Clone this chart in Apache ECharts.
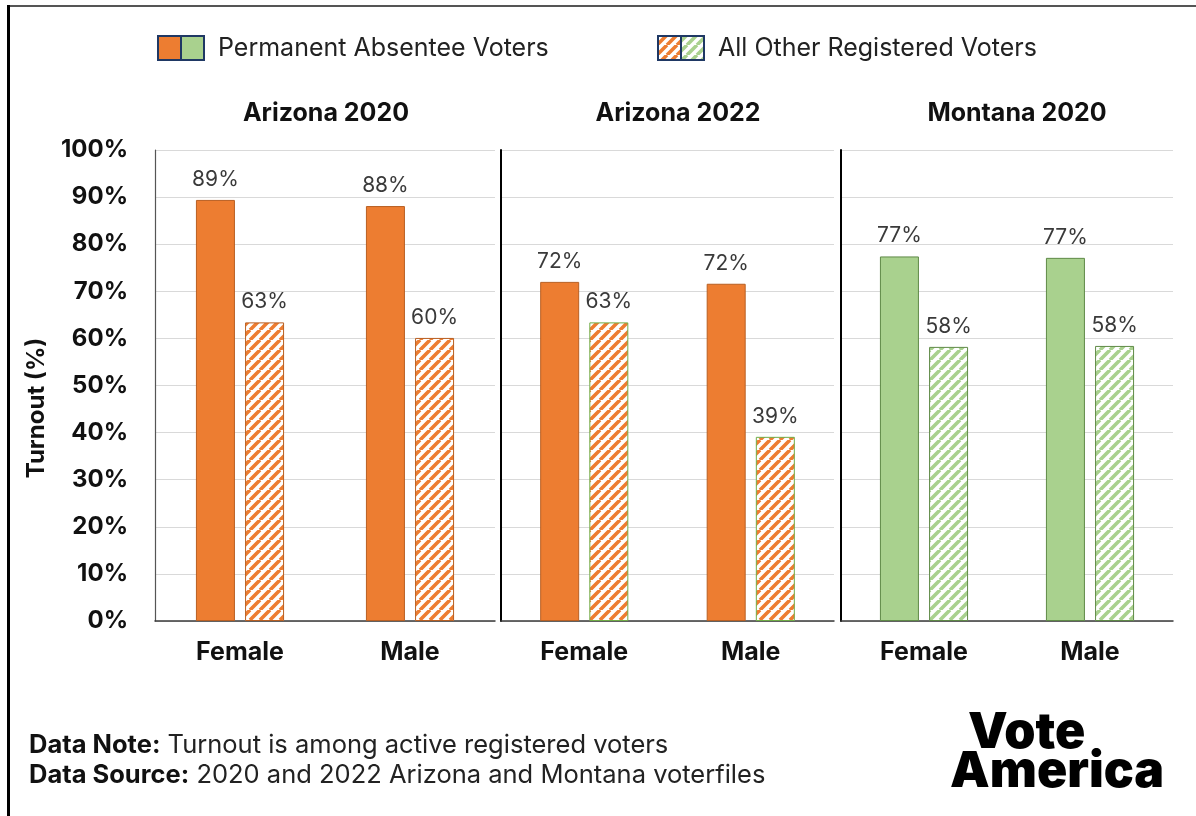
<!DOCTYPE html>
<html>
<head>
<meta charset="utf-8">
<title>Turnout by Gender</title>
<script src="https://cdn.jsdelivr.net/npm/echarts@6/dist/echarts.min.js"></script>
<style>
  html, body { margin: 0; padding: 0; background: #fff; }
  #chart { width: 1196px; height: 816px; }
</style>
</head>
<body>
<div id="chart"></div>
<script>
// Data
const categories = ['Female', 'Male'];
const panelTitles = ['Arizona 2020', 'Arizona 2022', 'Montana 2020'];
const seriesNames = ['Permanent Absentee Voters', 'All Other Registered Voters'];
const permanentAbsentee = [
  [89.4, 88.1],   // Arizona 2020
  [72.0, 71.6],   // Arizona 2022
  [77.4, 77.1]    // Montana 2020
];
const allOtherRegistered = [
  [63.4, 60.1],
  [63.4, 39.1],
  [58.2, 58.4]
];
const yMin = 0, yMax = 100, yStep = 10;

// Styling
const FONT = 'Inter, Roboto, "Noto Sans", sans-serif';
const ORANGE = '#ED7D31', ORANGE_EDGE = '#B85F22';
const GREEN = '#A9D18E', GREEN_EDGE = '#5F8A47', GREEN_LINE = '#70AD47';
const NAVY = '#1F3864';
const panelFill = [ORANGE, ORANGE, GREEN];
const panelEdge = [ORANGE_EDGE, ORANGE_EDGE, GREEN_EDGE];
const hatchEdge = [ORANGE_EDGE, GREEN_LINE, GREEN_EDGE];
const gridLeft = [155, 501, 841];
const gridWidth = [340, 333, 332];
const titleCenter = [321, 673, 1012];
const gridTop = 150, gridHeight = 471;

// Diagonal stripe tile used for the hatched bars
function stripeTile(color) {
  const c = document.createElement('canvas');
  c.width = c.height = 10;
  const g = c.getContext('2d');
  g.fillStyle = '#fff';
  g.fillRect(0, 0, 10, 10);
  g.strokeStyle = color;
  g.lineWidth = 3.6;
  g.beginPath();
  [-10, 0, 10].forEach(o => { g.moveTo(o, 10); g.lineTo(o + 10, 0); });
  g.stroke();
  return c;
}

// Legend swatch: orange half + green half, solid or striped
function swatch(striped) {
  const w = 48, h = 26;
  const c = document.createElement('canvas');
  c.width = w; c.height = h;
  const g = c.getContext('2d');
  const halves = [ORANGE, GREEN];
  halves.forEach((col, i) => {
    g.fillStyle = striped ? g.createPattern(stripeTile(col), 'repeat') : col;
    g.fillRect(i * w / 2, 0, w / 2, h);
  });
  g.strokeStyle = NAVY;
  g.lineWidth = 2;
  g.strokeRect(1, 1, w - 2, h - 2);
  g.beginPath(); g.moveTo(w / 2, 0); g.lineTo(w / 2, h); g.stroke();
  return 'image://' + c.toDataURL();
}

const chart = echarts.init(document.getElementById('chart'), null, { renderer: 'canvas' });

const grids = [], xAxes = [], yAxes = [], series = [], titles = [];
panelTitles.forEach((t, i) => {
  grids.push({ left: gridLeft[i], top: gridTop, width: gridWidth[i], height: gridHeight });
  titles.push({
    text: t,
    left: titleCenter[i],
    top: 96,
    textAlign: 'center',
    textStyle: { fontFamily: FONT, fontSize: 25, fontWeight: 'bold', color: '#111' }
  });
  xAxes.push({
    type: 'category', gridIndex: i, data: categories,
    axisTick: { show: false },
    axisLine: { lineStyle: { color: '#3a3a3a', width: 1.5 } },
    axisLabel: { margin: 19, fontFamily: FONT, fontSize: 25, fontWeight: 'bold', color: '#111' }
  });
  yAxes.push({
    type: 'value', gridIndex: i, min: yMin, max: yMax, interval: yStep,
    axisLine: { show: true, lineStyle: { color: i === 0 ? '#555' : '#000', width: i === 0 ? 1.2 : 2 } },
    axisTick: { show: false },
    splitLine: { lineStyle: { color: '#d9d9d9', width: 1 } },
    axisLabel: {
      show: i === 0, margin: 27, fontFamily: FONT, fontSize: 24, fontWeight: 'bold', color: '#111',
      formatter: v => v + '%'
    }
  });
  const label = {
    show: true, position: 'top', distance: 10,
    fontFamily: FONT, fontSize: 21, color: '#3a3a3a',
    formatter: p => Math.round(p.value) + '%'
  };
  series.push({
    type: 'bar', name: seriesNames[0], xAxisIndex: i, yAxisIndex: i,
    data: permanentAbsentee[i], barWidth: 39, barGap: '26%',
    itemStyle: { color: panelFill[i], borderColor: panelEdge[i], borderWidth: 1 },
    label, emphasis: { disabled: true }
  });
  series.push({
    type: 'bar', name: seriesNames[1], xAxisIndex: i, yAxisIndex: i,
    data: allOtherRegistered[i], barWidth: 39, barGap: '26%',
    itemStyle: {
      color: { image: stripeTile(panelFill[i]), repeat: 'repeat' },
      borderColor: hatchEdge[i], borderWidth: 1
    },
    label, emphasis: { disabled: true }
  });
});

const legendText = { fontFamily: FONT, fontSize: 25, color: '#222', padding: [0, 0, 0, 8] };
const noteSize = 25.5;

chart.setOption({
  animation: false,
  backgroundColor: '#fff',
  title: titles,
  legend: [
    { data: [{ name: seriesNames[0], icon: swatch(false) }], left: 152, top: 30,
      itemWidth: 48, itemHeight: 26, textStyle: legendText, selectedMode: false },
    { data: [{ name: seriesNames[1], icon: swatch(true) }], left: 652, top: 30,
      itemWidth: 48, itemHeight: 26, textStyle: legendText, selectedMode: false }
  ],
  grid: grids,
  xAxis: xAxes,
  yAxis: yAxes,
  series: series,
  graphic: [
    // frame edges
    { type: 'rect', shape: { x: 7, y: 5, width: 1189, height: 2 }, style: { fill: '#555' }, silent: true },
    { type: 'rect', shape: { x: 7, y: 5, width: 3, height: 811 }, style: { fill: '#000' }, silent: true },
    // y-axis title
    { type: 'text', x: 37, y: 408, rotation: Math.PI / 2,
      style: { text: 'Turnout (%)', fontFamily: FONT, fontSize: 24, fontWeight: 'bold', fill: '#111',
               align: 'center', verticalAlign: 'middle' } },
    // notes
    { type: 'text', x: 29, y: 745,
      style: { text: '{b|Data Note:} Turnout is among active registered voters',
               fontFamily: FONT, fontSize: noteSize, fill: '#222', verticalAlign: 'middle',
               rich: { b: { fontFamily: FONT, fontSize: noteSize, fontWeight: 'bold', fill: '#111' } } } },
    { type: 'text', x: 29, y: 775,
      style: { text: '{b|Data Source:} 2020 and 2022 Arizona and Montana voterfiles',
               fontFamily: FONT, fontSize: noteSize, fill: '#222', verticalAlign: 'middle',
               rich: { b: { fontFamily: FONT, fontSize: noteSize, fontWeight: 'bold', fill: '#111' } } } },
    // wordmark
    { type: 'text', x: 968, y: 733,
      style: { text: 'Vote', fontFamily: 'Inter', fontSize: 50, fontWeight: 900, fill: '#000',
               verticalAlign: 'middle' } },
    { type: 'text', x: 950, y: 772,
      style: { text: 'America', fontFamily: 'Inter', fontSize: 50, fontWeight: 900, fill: '#000',
               verticalAlign: 'middle' } }
  ]
});
</script>
</body>
</html>
